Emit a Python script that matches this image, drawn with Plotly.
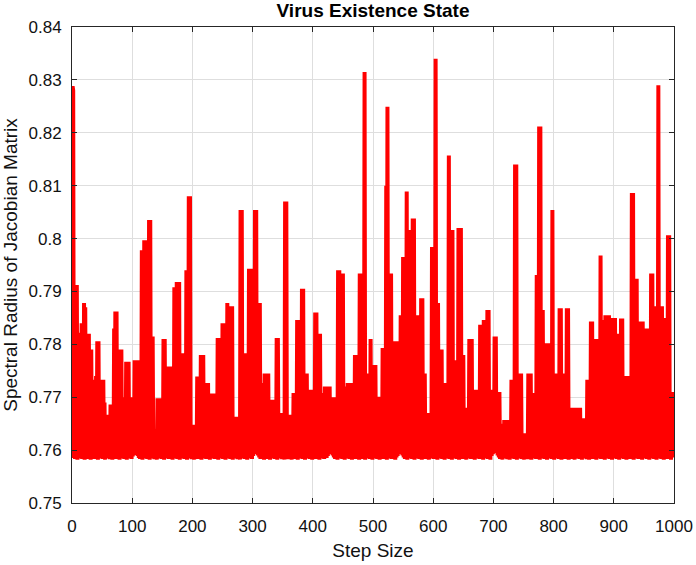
import plotly.graph_objects as go

# Step index (x axis)
steps = list(range(0, 1001))

# Values read at even steps (local upper envelope of the oscillation)
peak_values = [
    0.8218, 0.8280, 0.7693, 0.7912, 0.7912, 0.7822, 0.7822, 0.7822, 0.7840, 0.7840,
    0.7878, 0.7870, 0.7820, 0.7820, 0.7820, 0.7790, 0.7790, 0.7733, 0.7733, 0.7733,
    0.7740, 0.7806, 0.7806, 0.7733, 0.7733, 0.7733, 0.7733, 0.7690, 0.7667, 0.7667,
    0.7667, 0.7667, 0.7686, 0.7686, 0.7686, 0.7830, 0.7862, 0.7862, 0.7790, 0.7790,
    0.7790, 0.7790, 0.7700, 0.7700, 0.7700, 0.7767, 0.7767, 0.7767, 0.7700, 0.7700,
    0.7700, 0.7700, 0.7770, 0.7770, 0.7770, 0.7770, 0.7770, 0.7770, 0.7978, 0.7978,
    0.7997, 0.7997, 0.7997, 0.7997, 0.8035, 0.8035, 0.7815, 0.7815, 0.7640, 0.7640,
    0.7640, 0.7698, 0.7698, 0.7698, 0.7698, 0.7698, 0.7810, 0.7810, 0.7758, 0.7758,
    0.7758, 0.7758, 0.7758, 0.7758, 0.7758, 0.7908, 0.7908, 0.7918, 0.7918, 0.7918,
    0.7783, 0.7783, 0.7783, 0.7783, 0.7783, 0.7940, 0.7940, 0.8080, 0.8080, 0.7648,
    0.7648, 0.7648, 0.7648, 0.7648, 0.7739, 0.7739, 0.7739, 0.7780, 0.7780, 0.7780,
    0.7727, 0.7727, 0.7727, 0.7727, 0.7707, 0.7707, 0.7707, 0.7707, 0.7707, 0.7707,
    0.7707, 0.7812, 0.7812, 0.7812, 0.7812, 0.7840, 0.7840, 0.7840, 0.7840, 0.7878,
    0.7872, 0.7872, 0.7872, 0.7872, 0.7663, 0.7663, 0.7663, 0.7663, 0.7663, 0.7663,
    0.8054, 0.8054, 0.7783, 0.7783, 0.7783, 0.7783, 0.7783, 0.7943, 0.7943, 0.7943,
    0.7943, 0.7943, 0.8054, 0.8054, 0.7878, 0.7878, 0.7878, 0.7727, 0.7727, 0.7727,
    0.7745, 0.7745, 0.7745, 0.7745, 0.7695, 0.7695, 0.7695, 0.7695, 0.7695, 0.7695,
    0.7812, 0.7812, 0.7670, 0.7670, 0.7670, 0.7670, 0.7670, 0.8070, 0.8070, 0.7667,
    0.7667, 0.7667, 0.7667, 0.7667, 0.7708, 0.7708, 0.7708, 0.7846, 0.7846, 0.7846,
    0.7846, 0.7905, 0.7905, 0.7745, 0.7745, 0.7745, 0.7714, 0.7714, 0.7714, 0.7714,
    0.7714, 0.7714, 0.7860, 0.7860, 0.7820, 0.7820, 0.7820, 0.7708, 0.7708, 0.7708,
    0.7720, 0.7720, 0.7720, 0.7720, 0.7720, 0.7700, 0.7700, 0.7700, 0.7700, 0.7700,
    0.7700, 0.7940, 0.7940, 0.7934, 0.7934, 0.7934, 0.7720, 0.7720, 0.7720, 0.7727,
    0.7727, 0.7727, 0.7727, 0.7727, 0.7727, 0.7780, 0.7780, 0.7780, 0.7780, 0.7934,
    0.7934, 0.7934, 0.7934, 0.8315, 0.7745, 0.7745, 0.7745, 0.7745, 0.7810, 0.7761,
    0.7761, 0.7761, 0.7761, 0.7701, 0.7701, 0.7701, 0.7701, 0.7701, 0.7793, 0.7793,
    0.7793, 0.8100, 0.8249, 0.7934, 0.7934, 0.7934, 0.7806, 0.7806, 0.7806, 0.7806,
    0.7806, 0.7806, 0.7806, 0.7855, 0.7855, 0.7965, 0.7965, 0.7965, 0.8089, 0.8016,
    0.8016, 0.8016, 0.8016, 0.8038, 0.8038, 0.7855, 0.7855, 0.7855, 0.7855, 0.7855,
    0.7887, 0.7887, 0.7745, 0.7745, 0.7670, 0.7670, 0.7670, 0.7670, 0.7670, 0.7984,
    0.7984, 0.7984, 0.8340, 0.7878, 0.7878, 0.7790, 0.7790, 0.7790, 0.7727, 0.7727,
    0.7727, 0.7727, 0.7727, 0.8157, 0.8016, 0.8016, 0.8016, 0.7770, 0.7770, 0.7770,
    0.7770, 0.8020, 0.8020, 0.8020, 0.7780, 0.7780, 0.7680, 0.7680, 0.7680, 0.7680,
    0.7810, 0.7810, 0.7810, 0.7714, 0.7714, 0.7714, 0.7714, 0.7714, 0.7714, 0.7837,
    0.7837, 0.7837, 0.7846, 0.7846, 0.7846, 0.7865, 0.7865, 0.7714, 0.7714, 0.7714,
    0.7714, 0.7815, 0.7815, 0.7710, 0.7710, 0.7710, 0.7650, 0.7650, 0.7650, 0.7657,
    0.7657, 0.7657, 0.7657, 0.7657, 0.7657, 0.7733, 0.7733, 0.7733, 0.8140, 0.8140,
    0.7745, 0.7745, 0.7745, 0.7745, 0.7632, 0.7632, 0.7632, 0.7632, 0.7632, 0.7745,
    0.7745, 0.7745, 0.7708, 0.7708, 0.7708, 0.7708, 0.7931, 0.7931, 0.8212, 0.8212,
    0.7865, 0.7865, 0.7802, 0.7802, 0.7802, 0.7802, 0.7802, 0.7802, 0.7802, 0.8054,
    0.7745, 0.7745, 0.7745, 0.7745, 0.7745, 0.7868, 0.7868, 0.7745, 0.7745, 0.7745,
    0.7745, 0.7868, 0.7868, 0.7680, 0.7680, 0.7680, 0.7680, 0.7667, 0.7667, 0.7680,
    0.7680, 0.7680, 0.7680, 0.7660, 0.7660, 0.7660, 0.7660, 0.7660, 0.7733, 0.7733,
    0.7733, 0.7843, 0.7843, 0.7810, 0.7810, 0.7810, 0.7810, 0.7810, 0.7810, 0.7968,
    0.7846, 0.7846, 0.7846, 0.7855, 0.7855, 0.7855, 0.7855, 0.7850, 0.7850, 0.7850,
    0.7850, 0.7850, 0.7820, 0.7820, 0.7820, 0.7820, 0.7849, 0.7849, 0.7740, 0.7740,
    0.7740, 0.7740, 0.7740, 0.7740, 0.7740, 0.8086, 0.8086, 0.7924, 0.7924, 0.7924,
    0.7843, 0.7843, 0.7843, 0.7843, 0.7843, 0.7830, 0.7830, 0.7830, 0.7830, 0.7830,
    0.7830, 0.7934, 0.7934, 0.7872, 0.7872, 0.7872, 0.7872, 0.8290, 0.7872, 0.7872,
    0.7872, 0.7850, 0.7850, 0.7850, 0.7850, 0.8006, 0.8006, 0.7710, 0.7710, 0.7710,
    0.7710,
]

# Values read at odd steps (lower edge of the oscillation)
trough_values = [
    0.8288, 0.7585, 0.7583, 0.7588, 0.7582, 0.7586, 0.7584, 0.7590, 0.7583, 0.7587,
    0.7582, 0.7585, 0.7589, 0.7583, 0.7586, 0.7582, 0.7588, 0.7584, 0.7583, 0.7587,
    0.7585, 0.7582, 0.7589, 0.7584, 0.7586, 0.7583, 0.7588, 0.7582, 0.7585, 0.7584,
    0.7587, 0.7583, 0.7586, 0.7582, 0.7589, 0.7585, 0.7583, 0.7588, 0.7584, 0.7582,
    0.7586, 0.7584, 0.7588, 0.7583, 0.7585, 0.7582, 0.7587, 0.7584, 0.7586, 0.7583,
    0.7588, 0.7591, 0.7594, 0.7592, 0.7589, 0.7585, 0.7583, 0.7587, 0.7582, 0.7585,
    0.7584, 0.7588, 0.7583, 0.7586, 0.7582, 0.7589, 0.7584, 0.7585, 0.7583, 0.7587,
    0.7582, 0.7586, 0.7584, 0.7588, 0.7583, 0.7585, 0.7582, 0.7587, 0.7584, 0.7586,
    0.7583, 0.7588, 0.7585, 0.7582, 0.7586, 0.7584, 0.7589, 0.7583, 0.7585, 0.7582,
    0.7587, 0.7584, 0.7586, 0.7583, 0.7588, 0.7582, 0.7585, 0.7584, 0.7587, 0.7583,
    0.7586, 0.7582, 0.7588, 0.7585, 0.7583, 0.7587, 0.7584, 0.7582, 0.7586, 0.7589,
    0.7584, 0.7583, 0.7587, 0.7585, 0.7582, 0.7588, 0.7584, 0.7586, 0.7583, 0.7585,
    0.7588, 0.7582, 0.7585, 0.7584, 0.7587, 0.7583, 0.7586, 0.7582, 0.7589, 0.7584,
    0.7585, 0.7583, 0.7587, 0.7582, 0.7586, 0.7584, 0.7588, 0.7583, 0.7585, 0.7582,
    0.7587, 0.7584, 0.7586, 0.7583, 0.7588, 0.7582, 0.7585, 0.7584, 0.7587, 0.7583,
    0.7589, 0.7592, 0.7595, 0.7593, 0.7590, 0.7586, 0.7583, 0.7587, 0.7584, 0.7582,
    0.7586, 0.7583, 0.7588, 0.7585, 0.7582, 0.7587, 0.7584, 0.7586, 0.7583, 0.7588,
    0.7582, 0.7585, 0.7584, 0.7587, 0.7583, 0.7586, 0.7582, 0.7588, 0.7585, 0.7583,
    0.7587, 0.7584, 0.7582, 0.7586, 0.7589, 0.7583, 0.7585, 0.7582, 0.7587, 0.7584,
    0.7586, 0.7583, 0.7588, 0.7582, 0.7585, 0.7584, 0.7587, 0.7583, 0.7586, 0.7582,
    0.7588, 0.7585, 0.7583, 0.7587, 0.7584, 0.7582, 0.7586, 0.7589, 0.7584, 0.7583,
    0.7587, 0.7585, 0.7589, 0.7592, 0.7595, 0.7593, 0.7590, 0.7586, 0.7583, 0.7585,
    0.7582, 0.7587, 0.7584, 0.7586, 0.7583, 0.7588, 0.7582, 0.7585, 0.7584, 0.7587,
    0.7583, 0.7586, 0.7582, 0.7588, 0.7585, 0.7583, 0.7587, 0.7584, 0.7582, 0.7586,
    0.7589, 0.7583, 0.7585, 0.7582, 0.7587, 0.7584, 0.7586, 0.7583, 0.7588, 0.7582,
    0.7585, 0.7584, 0.7587, 0.7583, 0.7586, 0.7582, 0.7588, 0.7585, 0.7583, 0.7587,
    0.7584, 0.7582, 0.7586, 0.7589, 0.7584, 0.7583, 0.7587, 0.7585, 0.7582, 0.7586,
    0.7589, 0.7592, 0.7596, 0.7594, 0.7590, 0.7586, 0.7583, 0.7585, 0.7582, 0.7587,
    0.7584, 0.7586, 0.7583, 0.7588, 0.7582, 0.7585, 0.7584, 0.7587, 0.7583, 0.7586,
    0.7582, 0.7588, 0.7585, 0.7583, 0.7587, 0.7584, 0.7582, 0.7586, 0.7589, 0.7584,
    0.7583, 0.7587, 0.7585, 0.7582, 0.7588, 0.7584, 0.7586, 0.7583, 0.7585, 0.7582,
    0.7587, 0.7584, 0.7586, 0.7583, 0.7588, 0.7582, 0.7585, 0.7584, 0.7587, 0.7583,
    0.7586, 0.7582, 0.7588, 0.7585, 0.7583, 0.7587, 0.7584, 0.7582, 0.7586, 0.7589,
    0.7584, 0.7583, 0.7587, 0.7585, 0.7582, 0.7588, 0.7584, 0.7586, 0.7583, 0.7585,
    0.7588, 0.7582, 0.7585, 0.7584, 0.7587, 0.7583, 0.7586, 0.7582, 0.7589, 0.7592,
    0.7596, 0.7598, 0.7594, 0.7590, 0.7586, 0.7583, 0.7587, 0.7582, 0.7586, 0.7584,
    0.7588, 0.7583, 0.7585, 0.7582, 0.7587, 0.7584, 0.7586, 0.7583, 0.7588, 0.7582,
    0.7585, 0.7584, 0.7587, 0.7583, 0.7586, 0.7582, 0.7588, 0.7585, 0.7583, 0.7587,
    0.7584, 0.7582, 0.7586, 0.7589, 0.7584, 0.7583, 0.7587, 0.7585, 0.7582, 0.7588,
    0.7584, 0.7586, 0.7583, 0.7585, 0.7582, 0.7587, 0.7584, 0.7586, 0.7583, 0.7588,
    0.7582, 0.7585, 0.7584, 0.7587, 0.7583, 0.7586, 0.7582, 0.7588, 0.7585, 0.7583,
    0.7587, 0.7584, 0.7582, 0.7586, 0.7589, 0.7583, 0.7585, 0.7582, 0.7587, 0.7584,
    0.7586, 0.7583, 0.7588, 0.7582, 0.7585, 0.7584, 0.7587, 0.7583, 0.7586, 0.7582,
    0.7588, 0.7585, 0.7583, 0.7587, 0.7584, 0.7582, 0.7586, 0.7589, 0.7584, 0.7583,
    0.7587, 0.7585, 0.7582, 0.7588, 0.7584, 0.7586, 0.7583, 0.7585, 0.7582, 0.7587,
    0.7584, 0.7586, 0.7583, 0.7588, 0.7582, 0.7585, 0.7584, 0.7587, 0.7583, 0.7586,
    0.7582, 0.7588, 0.7585, 0.7583, 0.7587, 0.7584, 0.7582, 0.7586, 0.7589, 0.7584,
    0.7583, 0.7587, 0.7585, 0.7582, 0.7588, 0.7584, 0.7586, 0.7583, 0.7585, 0.7582,
    0.7587, 0.7584, 0.7586, 0.7583, 0.7588, 0.7582, 0.7585, 0.7584, 0.7587, 0.7583,
    0.7586, 0.7582, 0.7588, 0.7585, 0.7583, 0.7587, 0.7584, 0.7582, 0.7586, 0.7589,
]

x_tick_values = [0, 100, 200, 300, 400, 500, 600, 700, 800, 900, 1000]
y_tick_values = [0.75, 0.76, 0.77, 0.78, 0.79, 0.80, 0.81, 0.82, 0.83, 0.84]
y_tick_labels = ["0.75", "0.76", "0.77", "0.78", "0.79", "0.8", "0.81", "0.82", "0.83", "0.84"]

# Interleave the two read series in step order
spectral_radius = []
for i in range(len(steps)):
    if i % 2 == 0:
        spectral_radius.append(peak_values[i // 2])
    else:
        spectral_radius.append(trough_values[i // 2])

FONT = "Liberation Sans, Arial, Helvetica, sans-serif"
AXIS_COLOR = "#262626"
GRID_COLOR = "#dedede"

fig = go.Figure(
    go.Scatter(
        x=steps,
        y=spectral_radius,
        mode="lines",
        line=dict(color="#ff0000", width=4),
        hoverinfo="x+y",
    )
)

fig.update_layout(
    width=696,
    height=565,
    margin=dict(l=72, r=22, t=27, b=62, autoexpand=False),
    paper_bgcolor="white",
    plot_bgcolor="white",
    showlegend=False,
    font=dict(family=FONT, size=17, color="#111111"),
    title=dict(
        text="<b>Virus Existence State</b>",
        x=0.5,
        xref="paper",
        xanchor="center",
        y=1 - 10 / 565,
        yref="container",
        yanchor="middle",
        font=dict(family=FONT, size=19, color="#000000"),
    ),
)

fig.update_xaxes(
    range=[0, 1000],
    tickmode="array",
    tickvals=x_tick_values,
    ticks="inside",
    ticklen=5,
    tickwidth=1,
    tickcolor=AXIS_COLOR,
    showline=True,
    linecolor=AXIS_COLOR,
    linewidth=1,
    mirror="allticks",
    showgrid=True,
    gridcolor=GRID_COLOR,
    gridwidth=1,
    zeroline=False,
    automargin=False,
    ticklabelstandoff=8,
    title=dict(text="Step Size", font=dict(family=FONT, size=19, color="#111111"), standoff=8),
)

fig.update_yaxes(
    range=[0.75, 0.84],
    tickmode="array",
    tickvals=y_tick_values,
    ticktext=y_tick_labels,
    ticks="inside",
    ticklen=5,
    tickwidth=1,
    tickcolor=AXIS_COLOR,
    showline=True,
    linecolor=AXIS_COLOR,
    linewidth=1,
    mirror="allticks",
    showgrid=True,
    gridcolor=GRID_COLOR,
    gridwidth=1,
    zeroline=False,
    automargin=False,
    ticklabelstandoff=6,
    title=dict(
        text="Spectral Radius of Jacobian Matrix",
        font=dict(family=FONT, size=19, color="#111111"),
        standoff=6,
    ),
)

fig.write_html(
    "out.html",
    config={"displayModeBar": False},
    post_script="document.body.style.margin='0';",
)
